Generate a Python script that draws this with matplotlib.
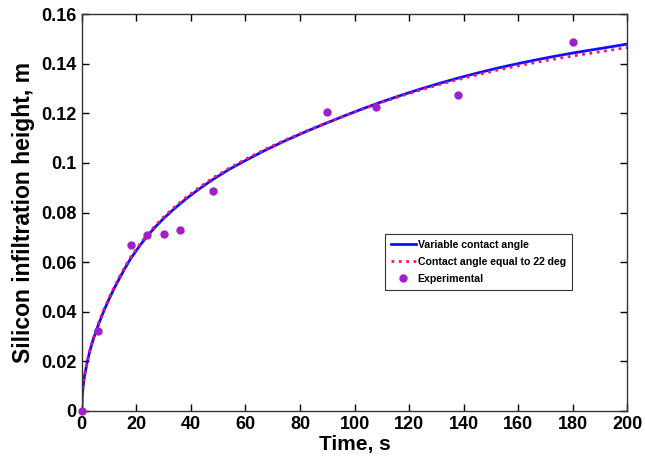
import numpy as np
import matplotlib
matplotlib.use("Agg")
import matplotlib.pyplot as plt
from matplotlib.ticker import FuncFormatter

# ---------------- data ----------------
t_model = [0, 0.25, 0.5, 1, 2, 3, 4, 6, 8, 10, 12, 14, 16, 18, 21, 24, 27,
           30, 34, 38, 43, 48, 54, 60, 67, 74, 82, 89, 96, 103, 110, 117,
           124, 131, 138, 145, 152, 159, 166, 173, 180, 190, 200]
h_variable = [0, 0.0068, 0.0097, 0.0138, 0.0196, 0.0242, 0.0280, 0.0344,
              0.0400, 0.0450, 0.0496, 0.0538, 0.0578, 0.0615, 0.0662,
              0.0705, 0.0742, 0.0776, 0.0816, 0.0853, 0.0895, 0.0933,
              0.0974, 0.1010, 0.1050, 0.1087, 0.1126, 0.1158, 0.1189,
              0.1219, 0.1247, 0.1273, 0.1298, 0.1321, 0.1343, 0.1363,
              0.1382, 0.1399, 0.1415, 0.1430, 0.1444, 0.1462, 0.1480]
h_const22 = [0, 0.0069, 0.0099, 0.0141, 0.0200, 0.0247, 0.0285, 0.0350,
             0.0406, 0.0456, 0.0502, 0.0544, 0.0584, 0.0621, 0.0668,
             0.0711, 0.0748, 0.0782, 0.0822, 0.0859, 0.0901, 0.0939,
             0.0979, 0.1015, 0.1054, 0.1090, 0.1128, 0.1159, 0.1189,
             0.1218, 0.1245, 0.1270, 0.1294, 0.1316, 0.1337, 0.1356,
             0.1374, 0.1390, 0.1405, 0.1419, 0.1432, 0.1449, 0.1466]

t_exp = [0, 6, 18, 24, 30, 36, 48, 90, 108, 138, 180]
h_exp = [0, 0.0323, 0.0670, 0.0708, 0.0714, 0.0731, 0.0886, 0.1204,
         0.1224, 0.1275, 0.1489]

xticks = np.arange(0, 201, 20)
yticks = [0, 0.02, 0.04, 0.06, 0.08, 0.1, 0.12, 0.14, 0.16]

# ---------------- figure ----------------
plt.rcParams['font.family'] = ['Liberation Sans', 'DejaVu Sans']
plt.rcParams['font.weight'] = 'bold'

fig = plt.figure(figsize=(6.45, 4.63), dpi=100)
ax = fig.add_axes([0.1267, 0.113, 0.846, 0.856])

ax.plot(t_model, h_variable, '-', color='#1010ff', lw=2.0,
        label='Variable contact angle')
ax.plot(t_model, h_const22, ':', color='#ff1070', lw=2.0,
        label='Contact angle equal to 22 deg')
ax.plot(t_exp, h_exp, 'o', color='#a020c8', ms=5, ls='none',
        label='Experimental', clip_on=False, zorder=5)

ax.set_xlim(0, 200)
ax.set_ylim(0, 0.16)
ax.set_xticks(xticks)
ax.set_yticks(yticks)
ax.yaxis.set_major_formatter(FuncFormatter(lambda v, p: '%g' % round(v, 4)))

ax.tick_params(direction='in', top=True, right=True, length=5, width=1,
               labelsize=13, pad=4)
for lab in ax.get_xticklabels() + ax.get_yticklabels():
    lab.set_fontweight('bold')
for s in ax.spines.values():
    s.set_linewidth(1.0)
    s.set_color('#333333')

ax.set_xlabel('Time, s', fontsize=15, fontweight='bold', labelpad=1)
ax.set_ylabel('Silicon infiltration height, m', fontsize=16.5,
              fontweight='bold', labelpad=4)

leg = ax.legend(loc='lower left', bbox_to_anchor=(0.547, 0.292),
                prop={'size': 7.6, 'weight': 'bold'}, fancybox=False,
                edgecolor='#333333', framealpha=1, handlelength=2.3,
                handletextpad=0.2, borderpad=0.55, labelspacing=0.65)
leg.get_frame().set_linewidth(0.8)

fig.savefig('out.png', dpi=100)
